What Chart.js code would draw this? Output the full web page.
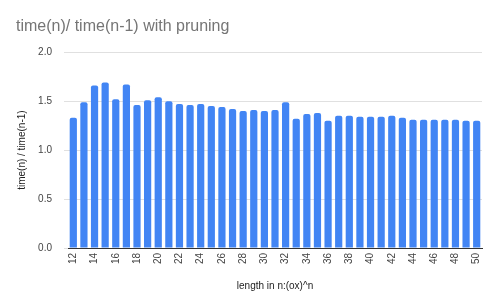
<!DOCTYPE html>
<html>
<head>
<meta charset="utf-8">
<script src="https://cdn.jsdelivr.net/npm/chart.js@4/dist/chart.umd.min.js"></script>
<style>
  html, body { margin: 0; padding: 0; background: #fff; }
  #wrap { width: 498px; height: 308px; }
</style>
</head>
<body>
<div id="wrap"><canvas id="c" width="498" height="308"></canvas></div>
<script>
const categories = [12,13,14,15,16,17,18,19,20,21,22,23,24,25,26,27,28,29,30,31,32,33,34,35,36,37,38,39,40,41,42,43,44,45,46,47,48,49,50];
const ratios = [1.33,1.49,1.66,1.69,1.52,1.67,1.46,1.51,1.54,1.50,1.47,1.46,1.47,1.45,1.44,1.42,1.40,1.41,1.40,1.41,1.49,1.32,1.37,1.38,1.30,1.35,1.35,1.34,1.34,1.34,1.35,1.33,1.31,1.31,1.31,1.31,1.31,1.30,1.30];
const yTicks = [0, 0.5, 1.0, 1.5, 2.0];
const chartTitle = 'time(n)/ time(n-1) with pruning';
const xTitle = 'length in n:(ox)^n';
const yTitle = 'time(n) / time(n-1)';

const FONT = '"Liberation Sans", Arial, sans-serif';

new Chart(document.getElementById('c'), {
  type: 'bar',
  data: {
    labels: categories.map(String),
    datasets: [{
      data: ratios,
      backgroundColor: '#4285F4',
      borderRadius: 2,
      barPercentage: 0.68,
      categoryPercentage: 1.0
    }]
  },
  options: {
    responsive: false,
    animation: false,
    devicePixelRatio: 1,
    layout: { padding: { left: 16, right: 16, top: 0, bottom: 0 } },
    plugins: {
      legend: { display: false },
      tooltip: { enabled: false },
      title: {
        display: true,
        text: chartTitle,
        align: 'start',
        color: '#757575',
        font: { family: FONT, size: 16, weight: 'normal' },
        padding: { top: 17, bottom: 16 }
      }
    },
    scales: {
      x: {
        grid: { display: false, drawTicks: false },
        border: { display: true, color: '#333333', width: 1 },
        ticks: {
          autoSkip: false,
          minRotation: 90,
          maxRotation: 90,
          padding: 5,
          color: '#444444',
          font: { family: FONT, size: 10 },
          callback: function(value, index) {
            return index % 2 === 0 ? this.getLabelForValue(value) : '';
          }
        },
        title: {
          display: true,
          text: xTitle,
          color: '#222222',
          font: { family: FONT, size: 10 },
          padding: { top: 0, bottom: 16 }
        },
        afterFit: function(scale) { scale.height = 60; }
      },
      y: {
        min: 0,
        max: 2,
        afterBuildTicks: function(scale) {
          scale.ticks = yTicks.map(v => ({ value: v }));
        },
        grid: { color: '#e0e0e0', lineWidth: 1, drawTicks: true, tickLength: 4 },
        border: { display: false },
        ticks: {
          padding: 12,
          color: '#444444',
          font: { family: FONT, size: 10 },
          callback: function(v) { return Number(v).toFixed(1); }
        },
        title: {
          display: true,
          text: yTitle,
          color: '#222222',
          font: { family: FONT, size: 10 },
          padding: { top: 0, bottom: 0 }
        },
        afterFit: function(scale) { scale.width = 52; }
      }
    }
  }
});
</script>
</body>
</html>
